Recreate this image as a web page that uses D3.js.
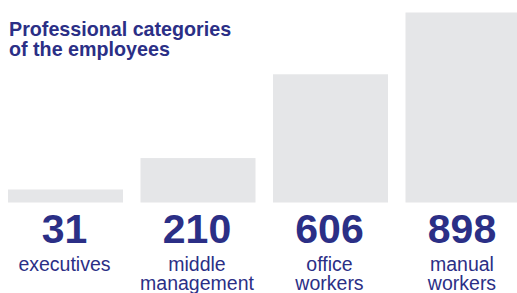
<!DOCTYPE html>
<html>
<head>
<meta charset="utf-8">
<script src="https://cdn.jsdelivr.net/npm/d3@7"></script>
<style>
  body { margin: 0; background: #fff; }
  text { font-family: "Liberation Sans", Arial, sans-serif; fill: #2b2f86; }
</style>
</head>
<body>
<div id="chart"></div>
<script>
// data
var categories = ["executives", "middle management", "office workers", "manual workers"];
var labelLines = [["executives"], ["middle", "management"], ["office", "workers"], ["manual", "workers"]];
var employees = [31, 210, 606, 898];
var titleLines = ["Professional categories", "of the employees"];

var width = 517,
    height = 293,
    baseY = 202.5,
    maxBar = 190,
    minBar = 13,
    navy = "#2b2f86",
    grey = "#e5e6e8";

var svg = d3.select("#chart")
    .append("svg")
    .attr("width", width)
    .attr("height", height);

var x = d3.scaleBand()
    .domain(categories)
    .range([8, 520.5])
    .paddingInner(0.132);

var h = d3.scaleLinear()
    .domain([0, d3.max(employees)])
    .range([0, maxBar]);

// tiny values still get a visible sliver, like in the original
function barH(v) {
    return Math.max(minBar, h(v));
}

var data = categories.map(function (c, i) {
    return { name: c, value: employees[i], lines: labelLines[i] };
});

svg.selectAll("rect.bar")
    .data(data)
    .enter()
    .append("rect")
    .attr("class", "bar")
    .attr("x", function (d) { return x(d.name); })
    .attr("y", function (d) { return baseY - barH(d.value); })
    .attr("width", x.bandwidth())
    .attr("height", function (d) { return barH(d.value); })
    .attr("fill", grey);

svg.selectAll("text.num")
    .data(data)
    .enter()
    .append("text")
    .attr("class", "num")
    .attr("x", function (d) { return x(d.name) + x.bandwidth() / 2 - 1; })
    .attr("y", 242.5)
    .attr("text-anchor", "middle")
    .style("font-size", "41px")
    .style("font-weight", "bold")
    .text(function (d) { return d.value; });

var lab = svg.selectAll("text.lab")
    .data(data)
    .enter()
    .append("text")
    .attr("class", "lab")
    .attr("text-anchor", "middle")
    .style("font-size", "19.5px");

lab.selectAll("tspan")
    .data(function (d) {
        return d.lines.map(function (l) { return { t: l, cx: x(d.name) + x.bandwidth() / 2 - 1 }; });
    })
    .enter()
    .append("tspan")
    .attr("x", function (d) { return d.cx; })
    .attr("y", function (d, i) { return 271 + i * 19; })
    .text(function (d) { return d.t; });

svg.append("text")
    .style("font-size", "19.7px")
    .style("font-weight", "bold")
    .selectAll("tspan")
    .data(titleLines)
    .enter()
    .append("tspan")
    .attr("x", 9)
    .attr("y", function (d, i) { return 36 + i * 20; })
    .text(function (d) { return d; });
</script>
</body>
</html>
